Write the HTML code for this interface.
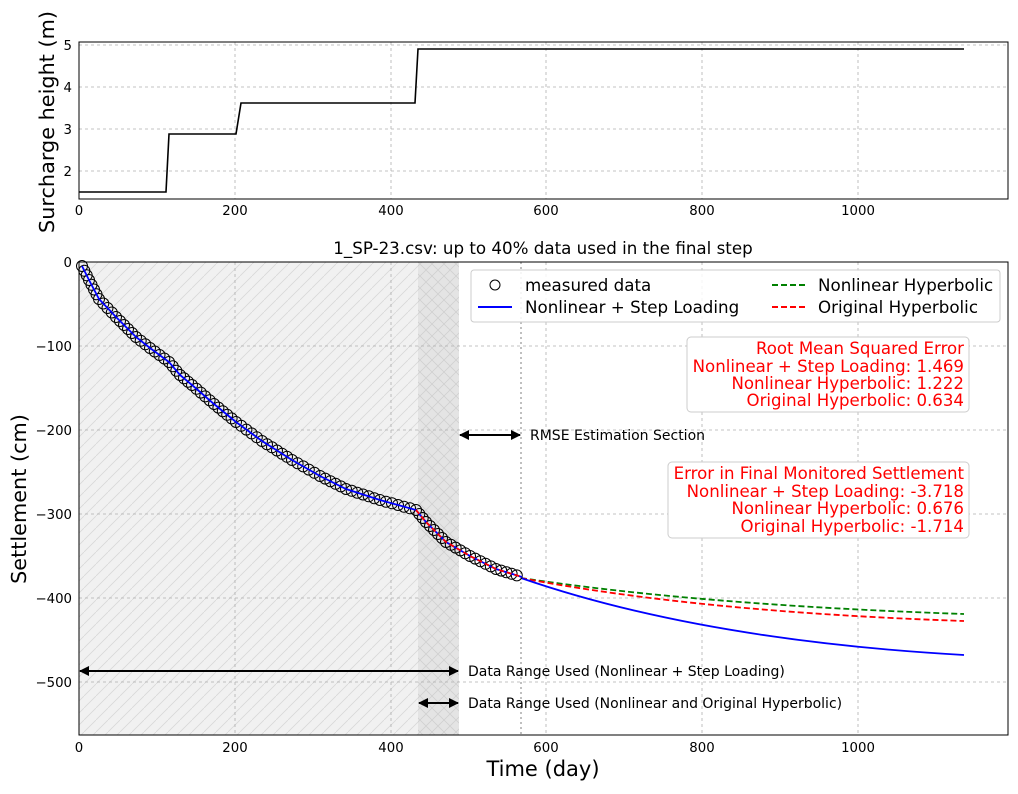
<!DOCTYPE html><html><head><meta charset="utf-8"><style>body{margin:0;background:#fff}svg{font-family:"DejaVu Sans","Liberation Sans",sans-serif}</style></head><body>
<svg id="s" width="1018" height="789" viewBox="0 0 1018 789" xmlns="http://www.w3.org/2000/svg">
<defs>
<pattern id="h1" width="12" height="12" patternUnits="userSpaceOnUse"><path d="M0 12L12 0" stroke="#d8d8d8" stroke-width="0.8"/></pattern>
<pattern id="h2" width="12" height="12" patternUnits="userSpaceOnUse"><path d="M0 12L12 0M0 0L12 12" stroke="#d0d0d0" stroke-width="0.8"/></pattern>
<marker id="ah" markerWidth="10" markerHeight="10" refX="9" refY="5" orient="auto-start-reverse" markerUnits="userSpaceOnUse"><path d="M0 0L10 5L0 10z" fill="#000"/></marker>
</defs>
<g stroke="#b0b0b0" stroke-dasharray="3,3" stroke-width="0.8">
<line x1="235" y1="42" x2="235" y2="199"/><line x1="391" y1="42" x2="391" y2="199"/><line x1="546" y1="42" x2="546" y2="199"/><line x1="702" y1="42" x2="702" y2="199"/><line x1="858" y1="42" x2="858" y2="199"/>
<line x1="79" y1="45" x2="1008" y2="45"/><line x1="79" y1="87" x2="1008" y2="87"/><line x1="79" y1="129" x2="1008" y2="129"/><line x1="79" y1="171" x2="1008" y2="171"/>
</g>
<polyline points="79,192 166,192 169,134 236,134 241,103 415,103 418,49 964,49" fill="none" stroke="#000" stroke-width="1.6"/>
<rect x="79" y="42" width="929" height="157" fill="none" stroke="#000"/>
<g font-size="13.3" text-anchor="middle"><text x="79" y="215">0</text><text x="235" y="215">200</text><text x="391" y="215">400</text><text x="546" y="215">600</text><text x="702" y="215">800</text><text x="858" y="215">1000</text></g>
<g font-size="13.3" text-anchor="end"><text x="72" y="50">5</text><text x="72" y="92">4</text><text x="72" y="134">3</text><text x="72" y="176">2</text></g>
<text transform="translate(54,122) rotate(-90)" font-size="20.8" text-anchor="middle">Surcharge height (m)</text>
<rect x="79" y="262" width="380" height="473" fill="#f1f1f1"/>
<rect x="79" y="262" width="380" height="473" fill="url(#h1)"/>
<rect x="418" y="262" width="41" height="473" fill="#e4e4e4"/>
<rect x="418" y="262" width="41" height="473" fill="url(#h2)"/>
<g stroke="#b0b0b0" stroke-dasharray="3,3" stroke-width="0.8">
<line x1="235" y1="262" x2="235" y2="735"/><line x1="391" y1="262" x2="391" y2="735"/><line x1="546" y1="262" x2="546" y2="735"/><line x1="702" y1="262" x2="702" y2="735"/><line x1="858" y1="262" x2="858" y2="735"/>
<line x1="79" y1="346" x2="1008" y2="346"/><line x1="79" y1="430" x2="1008" y2="430"/><line x1="79" y1="514" x2="1008" y2="514"/><line x1="79" y1="598" x2="1008" y2="598"/><line x1="79" y1="682" x2="1008" y2="682"/>
</g>
<line x1="521" y1="262" x2="521" y2="735" stroke="#aaa" stroke-dasharray="2,3" stroke-width="1.5"/>
<path d="M521 578 Q700 605 964 614" fill="none" stroke="#008000" stroke-width="1.8" stroke-dasharray="6,3"/>
<path d="M521 578 Q700 612 964 621" fill="none" stroke="#f00" stroke-width="1.8" stroke-dasharray="6,3"/>
<path d="M521 578 Q700 640 964 655" fill="none" stroke="#00f" stroke-width="1.8"/>
<g id="mk"></g>
<polyline id="bl" fill="none" stroke="#00f" stroke-width="1.8"/>
<polyline points="416,510 426,522 446,542 470,556 496,569 522,577" fill="none" stroke="#f00" stroke-width="1.8" stroke-dasharray="5,3"/>
<rect x="79" y="262" width="929" height="473" fill="none" stroke="#000"/>
<text x="543" y="254" font-size="16.7" text-anchor="middle">1_SP-23.csv: up to 40% data used in the final step</text>
<g font-size="13.3" text-anchor="middle"><text x="79" y="752">0</text><text x="235" y="752">200</text><text x="391" y="752">400</text><text x="546" y="752">600</text><text x="702" y="752">800</text><text x="858" y="752">1000</text></g>
<g font-size="13.3" text-anchor="end"><text x="72" y="267">0</text><text x="72" y="351">−100</text><text x="72" y="435">−200</text><text x="72" y="519">−300</text><text x="72" y="603">−400</text><text x="72" y="687">−500</text></g>
<text x="543" y="776" font-size="21" text-anchor="middle">Time (day)</text>
<text transform="translate(26,499) rotate(-90)" font-size="20.8" text-anchor="middle">Settlement (cm)</text>
<rect x="471" y="270" width="529" height="52" rx="3" fill="#fff" fill-opacity="0.85" stroke="#ccc"/>
<circle cx="495" cy="285" r="5" fill="none" stroke="#000"/>
<text x="525" y="291" font-size="16.7">measured data</text>
<line x1="478" y1="307" x2="512" y2="307" stroke="#00f" stroke-width="2"/>
<text x="525" y="313" font-size="16.7">Nonlinear + Step Loading</text>
<line x1="772" y1="285" x2="806" y2="285" stroke="#008000" stroke-width="2" stroke-dasharray="6,3"/>
<text x="818" y="291" font-size="16.7">Nonlinear Hyperbolic</text>
<line x1="772" y1="307" x2="806" y2="307" stroke="#f00" stroke-width="2" stroke-dasharray="6,3"/>
<text x="818" y="313" font-size="16.7">Original Hyperbolic</text>
<rect x="687" y="337" width="282" height="75" rx="4" fill="#fff" stroke="#ccc"/>
<g font-size="16.6" fill="#f00" text-anchor="end"><text x="964" y="354">Root Mean Squared Error</text><text x="964" y="372">Nonlinear + Step Loading: 1.469</text><text x="964" y="389">Nonlinear Hyperbolic: 1.222</text><text x="964" y="406">Original Hyperbolic: 0.634</text></g>
<rect x="668" y="462" width="301" height="76" rx="4" fill="#fff" stroke="#ccc"/>
<g font-size="16.6" fill="#f00" text-anchor="end"><text x="964" y="479">Error in Final Monitored Settlement</text><text x="964" y="497">Nonlinear + Step Loading: -3.718</text><text x="964" y="514">Nonlinear Hyperbolic: 0.676</text><text x="964" y="532">Original Hyperbolic: -1.714</text></g>
<g stroke="#000" stroke-width="2"><line x1="460" y1="435" x2="520" y2="435" marker-start="url(#ah)" marker-end="url(#ah)"/>
<line x1="80" y1="671" x2="458" y2="671" marker-start="url(#ah)" marker-end="url(#ah)"/>
<line x1="419" y1="703" x2="458" y2="703" marker-start="url(#ah)" marker-end="url(#ah)"/></g>
<g font-size="14"><text x="530" y="440">RMSE Estimation Section</text><text x="468" y="676">Data Range Used (Nonlinear + Step Loading)</text><text x="468" y="708">Data Range Used (Nonlinear and Original Hyperbolic)</text></g>
</svg>
<script>
var P=[[82,266],[89,280],[99,299],[116,317],[136,337],[150,348],[169,362],[180,375],[192,385],[214,404],[236,422],[262,441],[292,460],[320,476],[346,489],[380,500],[416,510],[426,522],[446,542],[470,556],[496,569],[522,577]];
document.getElementById('bl').setAttribute('points',P.map(p=>p.join(',')).join(' '));
var g=document.getElementById('mk'),h='';
for(var i=0;i<P.length-1;i++){var a=P[i],b=P[i+1],d=Math.hypot(b[0]-a[0],b[1]-a[1]),n=Math.max(1,Math.round(d/6));
for(var k=0;k<n;k++){var t=k/n;h+='<circle cx="'+(a[0]+(b[0]-a[0])*t).toFixed(1)+'" cy="'+(a[1]+(b[1]-a[1])*t).toFixed(1)+'" r="5.5" fill="none" stroke="#000" stroke-width="1"/>';}}
g.innerHTML=h;
</script>
</body></html>
